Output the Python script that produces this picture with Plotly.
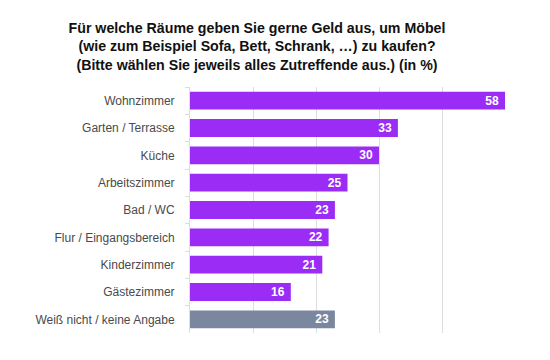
import plotly.graph_objects as go

categories = ["Wohnzimmer", "Garten / Terrasse", "Küche", "Arbeitszimmer", "Bad / WC",
              "Flur / Eingangsbereich", "Kinderzimmer", "Gästezimmer", "Weiß nicht / keine Angabe"]
values = [58, 33, 30, 25, 23, 22, 21, 16, 23]
colors = ["#9a2cf5"] * 8 + ["#7b879f"]
x_max = 50
# bars longer than the axis range are drawn cut at the axis edge, as in the original
shown = [min(v, x_max) for v in values]

fig = go.Figure(go.Bar(
    y=categories, x=shown, orientation="h",
    marker=dict(color=colors, line=dict(width=0)),
    text=[f"{v}&nbsp;" for v in values], textposition="inside", insidetextanchor="end",
    textangle=0, constraintext="none",
    textfont=dict(family="Liberation Sans, Arial", size=12, color="white", weight="bold"),
    hovertext=[str(v) for v in values],
))

fig.update_layout(
    width=542, height=352,
    margin=dict(l=182, r=45, t=79, b=27),
    paper_bgcolor="white", plot_bgcolor="white",
    bargap=0.35,
    showlegend=False,
    title=dict(
        text="<b>Für welche Räume geben Sie gerne Geld aus, um Möbel<br>(wie zum Beispiel Sofa, Bett, Schrank, …) zu kaufen?<br>(Bitte wählen Sie jeweils alles Zutreffende aus.) (in %)</b>",
        x=249 / 542, xanchor="center", xref="container",
        y=0.93, yanchor="top", yref="container",
        font=dict(family="Liberation Sans, Arial", size=14.2, color="#111111"),
    ),
    font=dict(family="Liberation Sans, Arial", size=12, color="#4a4a4a"),
)
fig.update_xaxes(range=[0, x_max], dtick=10, showticklabels=False, showgrid=True,
                 gridcolor="#dddddd", gridwidth=1, zeroline=False, fixedrange=True)
fig.update_yaxes(autorange="reversed", showline=True, linecolor="#dddddd",
                 ticks="outside", tickson="boundaries", ticklen=4, tickcolor="#dddddd",
                 ticklabelstandoff=12, tickfont=dict(size=12, color="#4a4a4a"))

fig.write_html("out.html")
